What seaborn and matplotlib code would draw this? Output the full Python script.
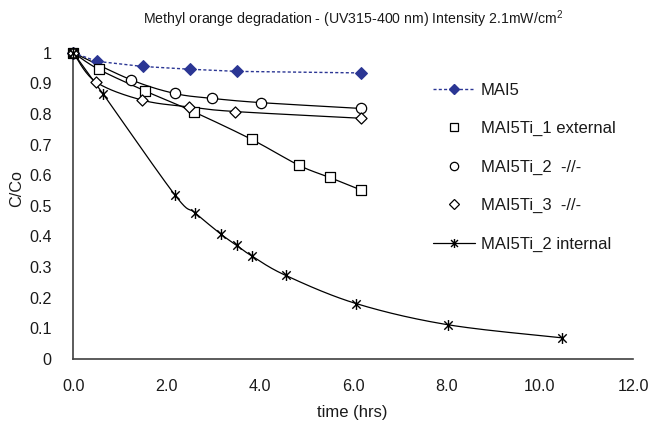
import numpy as np
import pandas as pd
import seaborn as sns
import matplotlib
matplotlib.use("Agg")
import matplotlib.pyplot as plt
from matplotlib.path import Path
from matplotlib.lines import Line2D

# ---------------- data ----------------
t_mai5 = [0.0, 0.50, 1.49, 2.50, 3.51, 6.16]
c_mai5 = [1.0, 0.972, 0.955, 0.946, 0.939, 0.934]

t_ti1 = [0.0, 0.54, 1.54, 2.58, 3.82, 4.84, 5.49, 6.16]
c_ti1 = [1.0, 0.946, 0.875, 0.807, 0.717, 0.632, 0.593, 0.552]

t_ti2 = [0.0, 1.23, 2.17, 2.97, 4.02, 6.16]
c_ti2 = [1.0, 0.912, 0.867, 0.851, 0.837, 0.818]

t_ti3 = [0.0, 0.48, 1.48, 2.48, 3.46, 6.16]
c_ti3 = [1.0, 0.905, 0.845, 0.823, 0.808, 0.786]

t_int = [0.0, 0.64, 2.18, 2.61, 3.16, 3.50, 3.82, 4.55, 6.06, 8.02, 10.48]
c_int = [1.0, 0.865, 0.535, 0.477, 0.408, 0.371, 0.337, 0.273, 0.181, 0.112, 0.069]

labels = ["MAI5", "MAI5Ti_1 external", "MAI5Ti_2  -//-", "MAI5Ti_3  -//-", "MAI5Ti_2 internal"]
x_ticks = [0, 2, 4, 6, 8, 10, 12]
y_ticks = [0, 0.1, 0.2, 0.3, 0.4, 0.5, 0.6, 0.7, 0.8, 0.9, 1.0]

title = "Methyl orange degradation - (UV315-400 nm) Intensity 2.1mW/cm$^\\mathregular{2}$"
xlabel = "time (hrs)"
ylabel = "C/Co"

# ---------------- style ----------------
sns.set_style("white")
plt.rcParams["font.family"] = ["Liberation Sans", "DejaVu Sans"]
plt.rcParams["mathtext.fontset"] = "custom"
plt.rcParams["mathtext.rm"] = "Liberation Sans"
TXT = "#1a1a1a"
AX = "#404040"
BLUE = "#2B3694"

fig = plt.figure(figsize=(6.51, 4.22), dpi=100)
ax = fig.add_axes([73.3 / 651, 1 - 359 / 422, (633.3 - 73.3) / 651, (359 - 52.7) / 422])


def smooth(xs, ys, n=30):
    """Excel-like smoothed line (cardinal Bezier) through the points."""
    xs = np.asarray(xs, float)
    ys = np.asarray(ys, float)
    P = np.column_stack([xs, ys])
    out = [P[0]]
    m = len(P)
    for i in range(m - 1):
        p0 = P[i - 1] if i > 0 else P[i]
        p1 = P[i]
        p2 = P[i + 1]
        p3 = P[i + 2] if i + 2 < m else P[i + 1]
        c1 = p1 + (p2 - p0) / 6.0
        c2 = p2 - (p3 - p1) / 6.0
        tt = np.linspace(0, 1, n)[1:, None]
        seg = ((1 - tt) ** 3) * p1 + 3 * ((1 - tt) ** 2) * tt * c1 + 3 * (1 - tt) * tt ** 2 * c2 + tt ** 3 * p2
        out.extend(seg)
    out = np.array(out)
    return out[:, 0], out[:, 1]


# smoothed trend lines (black)
for xs, ys in [(t_ti1, c_ti1), (t_ti2, c_ti2), (t_ti3, c_ti3), (t_int, c_int)]:
    sx, sy = smooth(xs, ys)
    ax.plot(sx, sy, color="black", lw=0.9, zorder=2, clip_on=False)

# MAI5 dotted blue with diamonds
df5 = pd.DataFrame({"t": t_mai5, "c": c_mai5})
sns.lineplot(data=df5, x="t", y="c", ax=ax, color=BLUE, lw=1.0, dashes=False,
             linestyle=(0, (2.2, 1.6)), marker="D", markersize=5.8,
             markeredgecolor=BLUE, markerfacecolor=BLUE, zorder=4, clip_on=False,
             sort=False)

open_kw = dict(facecolor="white", edgecolor="black", linewidth=0.9, zorder=5, clip_on=False)
sns.scatterplot(x=t_ti1, y=c_ti1, ax=ax, marker="s", s=50, **open_kw)
sns.scatterplot(x=t_ti2, y=c_ti2, ax=ax, marker="o", s=55, **open_kw)
sns.scatterplot(x=t_ti3, y=c_ti3, ax=ax, marker="D", s=32, **open_kw)

# asterisk marker: X plus vertical bar
star = Path([(-1, -1), (1, 1), (-1, 1), (1, -1), (0, -1.3), (0, 1.3)],
            [Path.MOVETO, Path.LINETO, Path.MOVETO, Path.LINETO, Path.MOVETO, Path.LINETO])
sns.scatterplot(x=t_int, y=c_int, ax=ax, marker=star, s=62, color="black",
                edgecolor="black", facecolor="black",
                linewidth=1.0, zorder=5, clip_on=False)

# ---------------- axes ----------------
ax.set_xlim(0, 12)
ax.set_ylim(0, 1.0)
ax.set_xticks(x_ticks)
ax.set_xticklabels([f"{v:.1f}" for v in x_ticks])
ax.set_yticks(y_ticks)
ax.set_yticklabels([f"{v:g}" for v in y_ticks])
ax.set_xlabel("")
ax.set_ylabel("")
for s in ["top", "right"]:
    ax.spines[s].set_visible(False)
for s in ["left", "bottom"]:
    ax.spines[s].set_color(AX)
    ax.spines[s].set_linewidth(1.2)
ax.tick_params(axis="both", direction="out", length=4.5, width=1.1, color=AX,
               labelsize=11.6, labelcolor=TXT)
ax.tick_params(axis="x", pad=10)
ax.tick_params(axis="y", pad=11)
ax.patch.set_alpha(0)

fig.text(353 / 651, 1 - 19 / 422, title, ha="center", va="center", fontsize=10.2, color=TXT)
fig.text(352 / 651, 1 - 413 / 422, xlabel, ha="center", va="center", fontsize=12, color=TXT)
fig.text(17 / 651, 1 - 189 / 422, ylabel, ha="center", va="center", rotation=90, fontsize=11.7, color=TXT)

# ---------------- legend ----------------
handles = [
    Line2D([], [], color=BLUE, lw=1.0, linestyle=(0, (2.2, 1.6)), marker="D", markersize=5.5,
           markerfacecolor=BLUE, markeredgecolor=BLUE),
    Line2D([], [], linestyle="none", marker="s", markersize=6, markerfacecolor="white",
           markeredgecolor="black", markeredgewidth=0.9),
    Line2D([], [], linestyle="none", marker="o", markersize=6, markerfacecolor="white",
           markeredgecolor="black", markeredgewidth=0.9),
    Line2D([], [], linestyle="none", marker="D", markersize=4.8, markerfacecolor="white",
           markeredgecolor="black", markeredgewidth=0.9),
    Line2D([], [], color="black", lw=0.9, marker=star, markersize=6.5, markeredgewidth=1.0),
]
leg = fig.legend(handles, labels, loc="upper left", bbox_to_anchor=(433 / 651, 1 - 83 / 422),
                 frameon=False, fontsize=12, handlelength=2.5, handletextpad=0.36,
                 labelspacing=1.40, borderaxespad=0, borderpad=0)
for t in leg.get_texts():
    t.set_color(TXT)

fig.savefig("out.png", dpi=100)
